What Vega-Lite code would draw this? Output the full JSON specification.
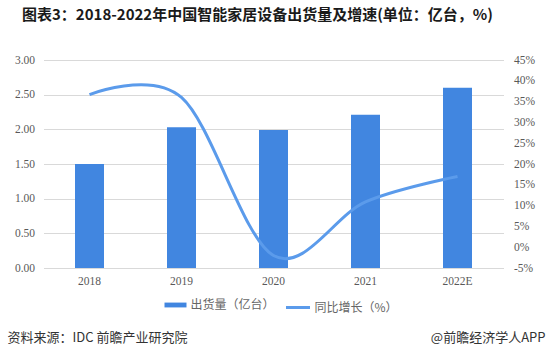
{
  "$schema": "https://vega.github.io/schema/vega-lite/v6.json",
  "width": 460,
  "height": 208,
  "autosize": {"type": "none"},
  "padding": {"left": 43.5, "top": 60, "right": 43.5, "bottom": 90},
  "background": "white",
  "title": {
    "text": "图表3：2018-2022年中国智能家居设备出货量及增速(单位：亿台，%)",
    "anchor": "start",
    "frame": "group",
    "dx": -21.5,
    "offset": 31,
    "font": "Noto Sans CJK SC",
    "fontSize": 15,
    "fontWeight": "bold",
    "color": "#1a1a1a"
  },
  "config": {
    "view": {"stroke": null},
    "axis": {
      "labelFont": "Liberation Serif",
      "labelFontSize": 11.5,
      "labelColor": "#595959",
      "ticks": false,
      "domain": false
    }
  },
  "data": {
    "values": [
      {"year": "2018", "shipments": 1.50, "growth": 36.7},
      {"year": "2019", "shipments": 2.03, "growth": 36.0},
      {"year": "2020", "shipments": 1.99, "growth": -2.0},
      {"year": "2021", "shipments": 2.21, "growth": 10.9},
      {"year": "2022E", "shipments": 2.60, "growth": 17.0}
    ]
  },
  "encoding": {
    "x": {
      "field": "year",
      "type": "ordinal",
      "sort": null,
      "scale": {"paddingInner": 0, "paddingOuter": 0},
      "axis": {
        "labelAngle": 0,
        "labelPadding": 7,
        "grid": false,
        "title": "资料来源：IDC 前瞻产业研究院",
        "titleAnchor": "start",
        "titleAlign": "left",
        "titleX": -36.5,
        "titleY": 69,
        "titleBaseline": "middle",
        "titleFont": "Noto Sans CJK SC",
        "titleFontSize": 13,
        "titleFontWeight": "normal",
        "titleColor": "#333333"
      }
    }
  },
  "layer": [
    {
      "mark": {"type": "bar", "size": 29},
      "encoding": {
        "y": {
          "field": "shipments",
          "type": "quantitative",
          "scale": {"domain": [0, 3]},
          "axis": {
            "values": [0, 0.5, 1, 1.5, 2, 2.5, 3],
            "format": ".2f",
            "grid": true,
            "gridColor": "#d9d9d9",
            "labelPadding": 9,
            "title": null
          }
        },
        "color": {
          "datum": "出货量（亿台）",
          "type": "nominal",
          "scale": {"range": ["#4186E0"]},
          "legend": {
            "orient": "none",
            "legendX": 121,
            "legendY": 234,
            "title": null,
            "symbolType": "M-1,-0.22L1,-0.22L1,0.22L-1,0.22Z",
            "symbolSize": 484,
            "symbolStrokeWidth": 0,
            "labelFont": "Noto Sans CJK SC",
            "labelFontSize": 12,
            "labelColor": "#666666",
            "labelOffset": 4
          }
        }
      }
    },
    {
      "mark": {"type": "line", "interpolate": "cardinal", "tension": 0, "strokeWidth": 3},
      "encoding": {
        "y": {
          "field": "growth",
          "type": "quantitative",
          "scale": {"domain": [-5, 45]},
          "axis": {
            "orient": "right",
            "values": [-5, 0, 5, 10, 15, 20, 25, 30, 35, 40, 45],
            "labelExpr": "datum.value + '%'",
            "grid": false,
            "labelPadding": 10,
            "title": "@前瞻经济学人APP",
            "titleAngle": 0,
            "titleAlign": "right",
            "titleX": 41.5,
            "titleY": 277,
            "titleBaseline": "middle",
            "titleFont": "Noto Sans CJK SC",
            "titleFontSize": 13,
            "titleFontWeight": "normal",
            "titleColor": "#333333"
          }
        },
        "color": {
          "datum": "同比增长（%）",
          "type": "nominal",
          "scale": {"range": ["#5B9BEB"]},
          "legend": {
            "orient": "none",
            "legendX": 241,
            "legendY": 234,
            "title": null,
            "symbolType": "stroke",
            "symbolSize": 576,
            "symbolStrokeWidth": 3,
            "labelFont": "Noto Sans CJK SC",
            "labelFontSize": 12,
            "labelColor": "#666666",
            "labelOffset": 3
          }
        }
      }
    }
  ],
  "resolve": {"scale": {"y": "independent", "color": "independent"}}
}
